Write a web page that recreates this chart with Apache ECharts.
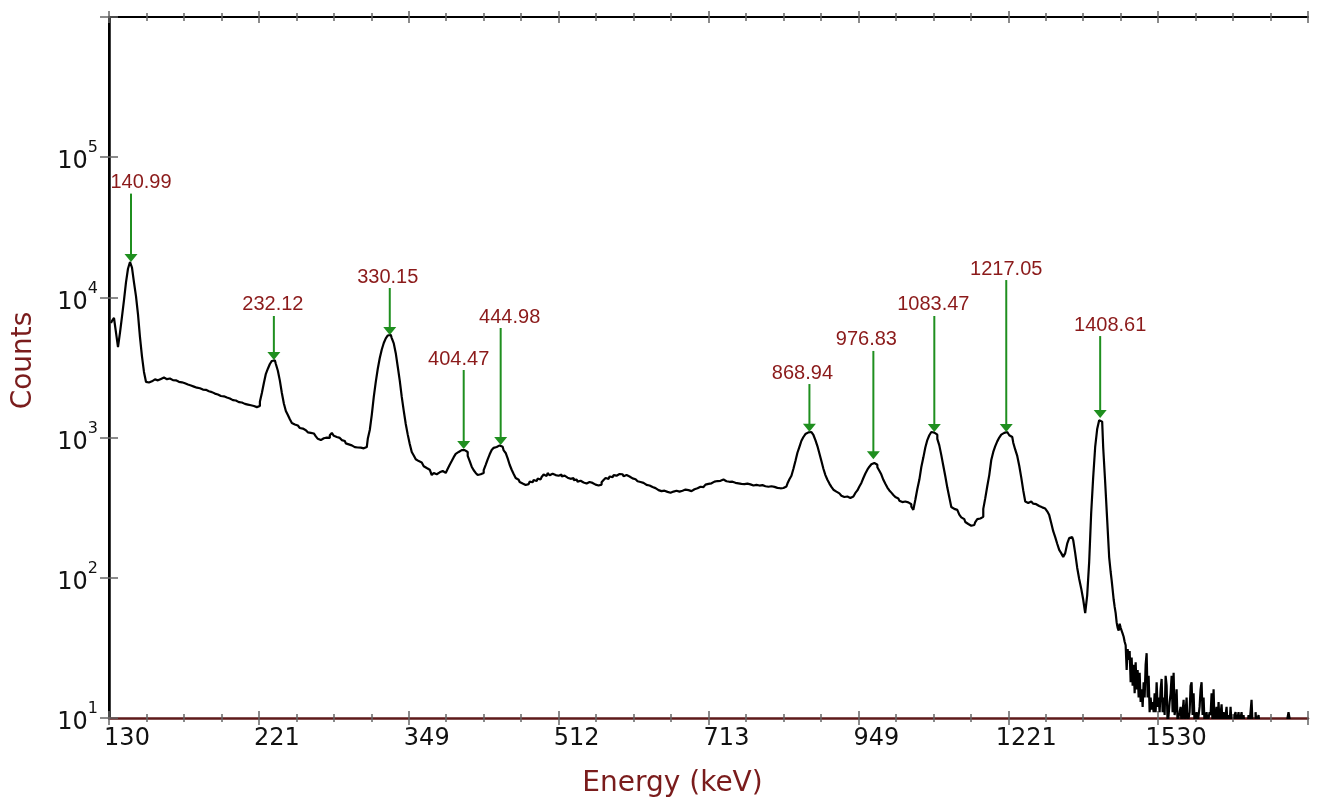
<!DOCTYPE html>
<html>
<head>
<meta charset="utf-8">
<script src="https://cdn.jsdelivr.net/npm/echarts@6/dist/echarts.min.js"></script>
<style>
html,body{margin:0;padding:0;background:#fff;}
#chart{width:1322px;height:804px;}
</style>
</head>
<body>
<div id="chart"></div>
<script>
// Energy labels shown at each major channel tick (quadratic calibration)
const tickLabels = ['130','221','349','512','713','949','1221','1530',''];

// Main spectrum: counts for channels 2, 4, 6, ... 1002 (one value every 2 channels)
const mainFirstChannel = 2;
const mainChannelStep = 2;
const mainCounts = [
  // 2..38  (140.99 peak)
  6570,6800,7130,5600,4430,5600,7300,9580,12800,16000,17900,16300,12800,10200,7600,5200,3800,2940,2500,
  // 40..148
  2470,2520,2500,2600,2560,2640,2620,2680,2630,2610,2640,2590,2570,2560,2510,2500,2480,2430,2440,2390,
  2370,2350,2310,2320,2270,2250,2240,2200,2190,2150,2140,2110,2090,2060,2030,2020,1980,1970,1950,1930,
  1900,1890,1850,1840,1820,1790,1780,1770,1740,1720,1720,1700,1680,1670,1650,
  // 150..190 (232.12 peak)
  1680,1800,2080,2450,2850,3100,3350,3520,3560,3350,3000,2550,2080,1750,1550,1450,1350,1270,1240,1220,1200,
  // 192..256
  1170,1160,1130,1120,1090,1080,1070,1050,1020,980,960,990,1010,1000,995,1040,1080,1030,1010,995,
  990,960,945,910,895,880,870,855,850,845,848,838,830,
  // 258..300 (330.15 peak)
  857,980,1133,1450,1950,2500,3100,3700,4250,4730,5100,5350,5400,5130,4700,4000,3200,2550,1950,1550,1250,1050,
  // 302..410 (404.47 and 444.98 peaks)
  900,790,745,700,680,665,645,625,607,590,575,541,560,548,565,552,578,560,570,600,
  640,680,725,765,790,815,830,815,790,740,680,620,585,560,541,548,560,587,640,700,
  760,815,845,857,880,886,860,810,777,710,640,590,550,515,500,
  // 412..680
  482,470,459,472,466,485,480,498,490,510,503,524,545,532,559,538,552,540,555,534,
  546,528,535,518,524,508,515,498,502,485,492,478,488,470,482,468,475,462,470,455,
  462,480,498,515,508,528,522,540,535,550,538,548,530,541,528,522,512,505,495,488,
  482,475,468,460,455,448,444,436,430,422,415,405,418,410,420,404,412,400,418,412,
  425,418,426,414,422,415,425,428,435,438,446,444,455,462,468,472,478,485,490,496,
  492,502,494,488,484,478,485,476,480,472,468,476,466,470,460,464,455,466,460,455,
  462,458,450,455,446,450,442,445,438,442,435,437,440,448,470,
  // 682..760 (868.94 and 976.83 peaks)
  505,535,600,680,780,860,950,1010,1060,1090,1096,1070,1044,960,870,770,680,600,540,500,
  470,445,425,412,400,392,385,377,380,372,371,380,390,403,420,448,475,515,555,590,
  // 762..806
  620,645,659,640,615,580,545,500,468,440,420,405,390,377,368,355,347,350,340,345,335,322,305,
  // 808..856 (1083.47 peak)
  360,430,500,617,720,850,960,1040,1096,1085,1050,980,880,750,630,530,440,375,320,310,305,296,282,270,262,
  // 858..916 (1217.05 peak)
  250,242,235,228,238,250,262,265,272,310,370,450,540,692,790,870,940,1000,1050,1080,
  1096,1075,1040,1009,920,820,740,630,520,420,
  // 918..1002 (1408.61 peak)
  350,342,350,347,338,335,325,320,318,312,305,298,280,246,215,195,175,158,150,141,
  150,175,192,195,186,150,118,98,84,70,56,75,130,290,520,857,1150,1330,1300,857,
  480,260,140
];

// High-energy tail: counts for every channel from 1003 to 1153 (9 = below the axis floor)
const tailFirstChannel = 1003;
const tailCounts = [
  110,96,82,70,62,56,48,44,42,47,44,45,40,38,35,33,22,31,26,30,
  18,27,17,24,15,25,16,22,14,21,13,16,12,18,14,24,29,14,20,11,
  14,11.5,13,11,15,11,18,12,14,11,16,19,11,14,10.5,20,17,9,10.5,13,
  15,20,11,21,10.5,12,16,9,10.3,11,12,9,11,13.5,9,11,14,9,9,11,
  17,18,10.5,15,9,9,11,9,9,12,16,18,10.5,14,9,9,11,9,9,11,
  10.5,15,9,16,9,9,12,9,13,9,9,12.5,9,11,9,9,12,9,10.5,9,
  12,9,9,9,10.5,11,9,9,11,9,9,11,9,10.5,9,9,9,9,10.5,9,
  9,13.5,9,9,9,11,9,9,10.5,9,9
];
// Isolated counts far out in the tail
const lateChannels = [1179,1180,1181,1182,1183];
const lateCounts = [9,10,11,10,9];

// Identified peaks
const peakLabels = ['140.99','232.12','330.15','404.47','444.98','868.94','976.83','1083.47','1217.05','1408.61'];
const peakChannels = [22,165,281,355,392,701,765,826,898,992];
const peakCounts = [17900,3580,5400,830,886,1100,700,1096,1096,1380];
const peakLabelCounts = [55000,7370,11670,3035,6050,2410,4150,7370,13300,5300];

const DARKRED = '#7a1c1c';
const GREEN = '#1f8f1f';
const FONT = 'DejaVu Sans';
// horizontal nudges applied to the peak captions (px) to avoid overlaps
const captionNudge = [10, -1, -2, -5, 9, -7, -7, -1, 0, 10];

const chart = echarts.init(document.getElementById('chart'), null, {renderer: 'canvas'});

const spectrumData = mainCounts.map((c, i) => [mainFirstChannel + i * mainChannelStep, c])
  .concat(tailCounts.map((c, i) => [tailFirstChannel + i, c]))
  .concat(lateChannels.map((ch, i) => [ch, lateCounts[i]]));
const peakData = peakChannels.map((c, i) => [c, peakCounts[i], peakLabelCounts[i]]);

const xBase = {type: 'value', min: 0, max: 1200, interval: 150, splitLine: {show: false}};
const tickStyle = {color: '#666', width: 1.5};

const option = {
  backgroundColor: '#fff',
  animation: false,
  grid: {left: 109, right: 14, top: 17, bottom: 86, containLabel: false},
  xAxis: [
    Object.assign({}, xBase, {
      position: 'bottom',
      name: 'Energy (keV)', nameLocation: 'middle', nameGap: 52,
      nameTextStyle: {color: DARKRED, fontSize: 28, fontFamily: FONT, padding: [0, 72, 0, 0]},
      axisLine: {show: true, lineStyle: {color: '#5e1a1a', width: 2.5}},
      axisTick: {show: true, inside: false, length: 7, lineStyle: tickStyle},
      minorTick: {show: true, splitNumber: 4, length: 4, lineStyle: tickStyle},
      axisLabel: {show: true, margin: 9, color: '#111', fontSize: 24, fontFamily: FONT,
        padding: [0, 0, 0, 36],
        formatter: v => tickLabels[Math.round(v / 150)] || ''}
    }),
    Object.assign({}, xBase, {
      position: 'bottom', axisLine: {show: false},
      axisTick: {show: true, inside: true, length: 7, lineStyle: tickStyle},
      minorTick: {show: true, splitNumber: 4, length: 4, lineStyle: tickStyle},
      axisLabel: {show: false}
    }),
    Object.assign({}, xBase, {
      position: 'top',
      axisLine: {show: true, lineStyle: {color: '#000', width: 2}},
      axisTick: {show: true, inside: false, length: 6, lineStyle: tickStyle},
      minorTick: {show: true, splitNumber: 4, length: 4, lineStyle: tickStyle},
      axisLabel: {show: false}
    }),
    Object.assign({}, xBase, {
      position: 'top', axisLine: {show: false},
      axisTick: {show: true, inside: true, length: 6, lineStyle: tickStyle},
      minorTick: {show: true, splitNumber: 4, length: 4, lineStyle: tickStyle},
      axisLabel: {show: false}
    })
  ],
  yAxis: [
    {
      type: 'log', logBase: 10, min: 10, max: 1000000, position: 'left',
      name: 'Counts', nameLocation: 'middle', nameGap: 71,
      nameTextStyle: {color: DARKRED, fontSize: 28, fontFamily: FONT, padding: [0, 0, 0, 14]},
      splitLine: {show: false},
      axisLine: {show: true, lineStyle: {color: '#000', width: 2.5}},
      axisTick: {show: true, inside: false, length: 9, lineStyle: tickStyle},
      axisLabel: {
        show: true, margin: 11,
        formatter: v => {
          const e = Math.round(Math.log10(v));
          return (e >= 1 && e <= 5) ? '{b|10}{s|' + e + '}' : '';
        },
        rich: {
          b: {fontSize: 24, fontFamily: FONT, color: '#111', padding: [10, 0, 0, 0]},
          s: {fontSize: 16, fontFamily: FONT, color: '#111', verticalAlign: 'top'}
        }
      }
    },
    {
      type: 'log', logBase: 10, min: 10, max: 1000000, position: 'left',
      splitLine: {show: false}, axisLine: {show: false},
      axisTick: {show: true, inside: true, length: 9, lineStyle: tickStyle},
      axisLabel: {show: false}
    },
    {
      type: 'log', logBase: 10, min: 10, max: 1000000, position: 'right',
      splitLine: {show: false},
      axisLine: {show: true, lineStyle: {color: '#000', width: 2}},
      axisTick: {show: true, inside: true, length: 9, lineStyle: tickStyle},
      axisLabel: {show: false}
    }
  ],
  series: [
    {
      type: 'line', name: 'spectrum', xAxisIndex: 0, yAxisIndex: 0,
      data: spectrumData, step: 'middle',
      showSymbol: false, symbol: 'none', clip: true,
      lineStyle: {color: '#000', width: 2.2}, z: 3
    },
    {
      type: 'custom', name: 'peaks', xAxisIndex: 0, yAxisIndex: 0, z: 5,
      data: peakData,
      renderItem: (params, api) => {
        const ch = api.value(0);
        const tip = api.coord([ch, api.value(1)]);
        const top = api.coord([ch, api.value(2)]);
        const ah = 8, aw = 6.5;
        return {
          type: 'group',
          children: [
            {type: 'line', shape: {x1: top[0], y1: top[1], x2: tip[0], y2: tip[1] - ah + 1},
              style: {stroke: GREEN, lineWidth: 2}},
            {type: 'polygon', shape: {points: [[tip[0] - aw, tip[1] - ah], [tip[0] + aw, tip[1] - ah], [tip[0], tip[1]]]},
              style: {fill: GREEN}},
            {type: 'text', x: top[0] + captionNudge[params.dataIndex], y: top[1] - 1,
              style: {text: peakLabels[params.dataIndex], fill: '#8b1a1a', fontSize: 20,
                fontFamily: 'Liberation Sans', align: 'center', verticalAlign: 'bottom'}}
          ]
        };
      }
    }
  ]
};
chart.setOption(option);
</script>
</body>
</html>
